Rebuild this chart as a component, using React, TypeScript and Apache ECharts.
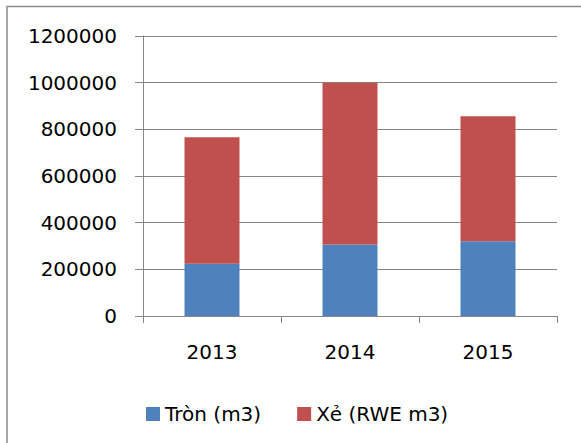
import React, { useEffect, useRef } from "react";
import * as echarts from "echarts";

const categories = ["2013", "2014", "2015"];
const tronValues = [224000, 306000, 320000];
const xeValues = [542000, 694000, 536000];
const seriesNames = ["Tròn (m3)", "Xẻ (RWE m3)"];
const yMin = 0;
const yMax = 1200000;
const yInterval = 200000;

const FONT = "DejaVu Sans";

export default function App() {
  const ref = useRef<HTMLDivElement>(null);
  useEffect(() => {
    const el = ref.current;
    if (!el) return;
    const chart = echarts.init(el, undefined, { renderer: "svg" });
    chart.setOption({
      animation: false,
      backgroundColor: "#ffffff",
      textStyle: { fontFamily: FONT },
      graphic: [
        {
          type: "rect",
          shape: { x: 7, y: 6.5, width: 700, height: 600 },
          style: { fill: "none", stroke: "#8c8c8c", lineWidth: 1.5 },
          silent: true,
          z: -1,
        },
      ],
      grid: { left: 143, right: 24, top: 36, bottom: 127, containLabel: false },
      legend: {
        left: 141,
        top: 399,
        icon: "rect",
        itemWidth: 14,
        itemHeight: 14,
        itemGap: 36,
        textStyle: { fontFamily: FONT, fontSize: 20, color: "#000", padding: [0, 0, 0, 0] },
        data: seriesNames,
      },
      xAxis: {
        type: "category",
        data: categories,
        axisLine: { lineStyle: { color: "#868686", width: 1 } },
        axisTick: { show: true, length: 7, lineStyle: { color: "#868686" } },
        axisLabel: { fontFamily: FONT, fontSize: 20, color: "#000", margin: 26 },
      },
      yAxis: {
        type: "value",
        min: yMin,
        max: yMax,
        interval: yInterval,
        axisLine: { show: true, lineStyle: { color: "#868686", width: 1 } },
        axisTick: { show: true, length: 8, lineStyle: { color: "#868686" } },
        splitLine: { show: true, lineStyle: { color: "#868686", width: 1 } },
        axisLabel: {
          fontFamily: FONT,
          fontSize: 20,
          color: "#000",
          margin: 26,
          formatter: (v: number) => String(v),
        },
      },
      series: [
        {
          name: seriesNames[0],
          type: "bar",
          stack: "total",
          data: tronValues,
          barWidth: 55,
          itemStyle: { color: "#4F81BD" },
        },
        {
          name: seriesNames[1],
          type: "bar",
          stack: "total",
          data: xeValues,
          barWidth: 55,
          itemStyle: { color: "#C0504D" },
        },
      ],
    });
    return () => chart.dispose();
  }, []);
  return (
    <div style={{ position: "absolute", left: 0, top: 0, width: 581, height: 443, overflow: "hidden" }}>
      <div ref={ref} style={{ width: 581, height: 443 }} />
    </div>
  );
}
